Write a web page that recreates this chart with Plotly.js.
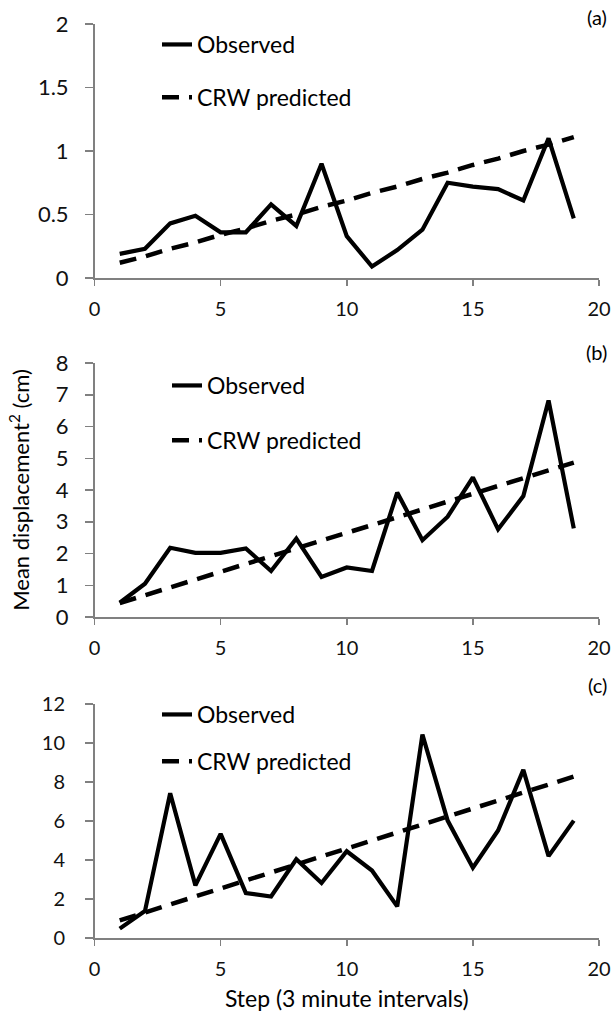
<!DOCTYPE html>
<html>
<head>
<meta charset="utf-8">
<script src="https://cdn.plot.ly/plotly-3.0.1.min.js"></script>
<style>html,body{margin:0;padding:0;background:#fff;}#chart{width:612px;height:1014px;}</style>
</head>
<body>
<div id="chart"></div>
<script>
// Step numbers (3 minute intervals)
const steps = [1,2,3,4,5,6,7,8,9,10,11,12,13,14,15,16,17,18,19];

// Panel (a)
const observedA  = [0.19,0.23,0.43,0.49,0.36,0.36,0.58,0.41,0.90,0.33,0.09,0.22,0.38,0.75,0.72,0.70,0.61,1.10,0.47];
const predictedA = [0.12,0.17,0.23,0.28,0.34,0.39,0.45,0.50,0.56,0.61,0.67,0.72,0.78,0.83,0.89,0.94,1.00,1.05,1.11];

// Panel (b)
const observedB  = [0.45,1.05,2.18,2.02,2.02,2.16,1.45,2.47,1.26,1.56,1.45,3.92,2.42,3.16,4.40,2.76,3.81,6.82,2.79];
const predictedB = [0.44,0.69,0.93,1.18,1.42,1.67,1.91,2.16,2.41,2.65,2.90,3.14,3.39,3.63,3.88,4.12,4.37,4.62,4.86];

// Panel (c)
const observedC  = [0.48,1.38,7.42,2.70,5.34,2.30,2.13,4.04,2.82,4.45,3.46,1.62,10.43,6.02,3.60,5.51,8.62,4.20,6.02];
const predictedC = [0.90,1.31,1.72,2.13,2.54,2.95,3.36,3.77,4.18,4.59,5.00,5.41,5.82,6.23,6.64,7.05,7.46,7.87,8.28];

const seriesNames = ['Observed', 'CRW predicted'];
const panelLabels = ['(a)', '(b)', '(c)'];
const yTitle = 'Mean displacement<sup>2</sup> (cm)';
const xTitle = 'Step (3 minute intervals)';

const W = 612, H = 1014;
const FONT = 'Lato, "Open Sans", sans-serif';
const px = v => v / W;
const py = v => 1 - v / H;

function mk(y, name, dash, xa, ya, leg, grp) {
  return {
    x: steps, y: y, name: name, type: 'scatter', mode: 'lines',
    xaxis: xa, yaxis: ya, legend: leg, legendgroup: grp,
    line: {color: '#000', width: dash ? 4.5 : 4.2, dash: dash ? '17px,10px' : 'solid'},
    hoverinfo: 'skip'
  };
}

const data = [
  mk(observedA, seriesNames[0], false, 'x', 'y', 'legend', 'a1'),
  mk(predictedA, seriesNames[1], true, 'x', 'y', 'legend', 'a2'),
  mk(observedB, seriesNames[0], false, 'x2', 'y2', 'legend2', 'b1'),
  mk(predictedB, seriesNames[1], true, 'x2', 'y2', 'legend2', 'b2'),
  mk(observedC, seriesNames[0], false, 'x3', 'y3', 'legend3', 'c1'),
  mk(predictedC, seriesNames[1], true, 'x3', 'y3', 'legend3', 'c2')
];

const axisLine = '#808080';
function xax(anchor, fs) {
  return {
    anchor: anchor, domain: [px(94.5), px(599)], range: [0, 20], dtick: 5, tick0: 0,
    showgrid: false, zeroline: false, showline: true, linecolor: axisLine, linewidth: 1.5,
    ticks: 'outside', ticklen: 6, tickwidth: 1.5, tickcolor: axisLine,
    tickfont: {family: FONT, size: fs, color: '#111'}, ticklabelstandoff: 6, fixedrange: true
  };
}
function yax(anchor, dom, range, dtick, fs, so) {
  return {
    anchor: anchor, domain: dom, range: range, dtick: dtick, tick0: 0,
    showgrid: false, zeroline: false, showline: true, linecolor: axisLine, linewidth: 1.5,
    ticks: 'outside', ticklen: 8, tickwidth: 1.5, tickcolor: axisLine,
    tickfont: {family: FONT, size: fs, color: '#111'}, ticklabelstandoff: so, fixedrange: true
  };
}

function legendAt(textX, topY, gap) {
  return {
    x: px(textX - 42), y: py(topY), xanchor: 'left', yanchor: 'top',
    font: {family: FONT, size: 23, color: '#000'},
    bgcolor: 'rgba(0,0,0,0)', borderwidth: 0,
    traceorder: 'grouped', tracegroupgap: gap, itemclick: false, itemdoubleclick: false
  };
}

const layout = {
  width: W, height: H,
  margin: {l: 0, r: 0, t: 0, b: 0},
  paper_bgcolor: '#fff', plot_bgcolor: 'rgba(0,0,0,0)',
  font: {family: FONT, color: '#000'},
  showlegend: true,
  xaxis: xax('y', 20),
  yaxis: yax('x', [py(278), py(24)], [0, 2], 0.5, 22, 12),
  xaxis2: xax('y2', 20),
  yaxis2: Object.assign(yax('x2', [py(617), py(363)], [0, 8], 1, 22, 12), {
    title: {text: yTitle, font: {family: FONT, size: 22, color: '#000'}, standoff: 20}
  }),
  xaxis3: Object.assign(xax('y3', 20), {
    title: {text: xTitle, font: {family: FONT, size: 23, color: '#000'}, standoff: 12}
  }),
  yaxis3: yax('x3', [py(938), py(704)], [0, 12], 2, 20, 16),
  legend: legendAt(199, 23, 20),
  legend2: legendAt(209, 364, 22),
  legend3: legendAt(199, 693, 14),
  annotations: [
    {text: panelLabels[0], xref: 'paper', yref: 'paper', x: px(609), y: py(17), xanchor: 'right', yanchor: 'middle', showarrow: false, font: {family: FONT, size: 20, color: '#000'}},
    {text: panelLabels[1], xref: 'paper', yref: 'paper', x: px(609), y: py(352), xanchor: 'right', yanchor: 'middle', showarrow: false, font: {family: FONT, size: 20, color: '#000'}},
    {text: panelLabels[2], xref: 'paper', yref: 'paper', x: px(609), y: py(685), xanchor: 'right', yanchor: 'middle', showarrow: false, font: {family: FONT, size: 20, color: '#000'}}
  ]
};

Plotly.newPlot('chart', data, layout, {displayModeBar: false, staticPlot: true});
</script>
</body>
</html>
